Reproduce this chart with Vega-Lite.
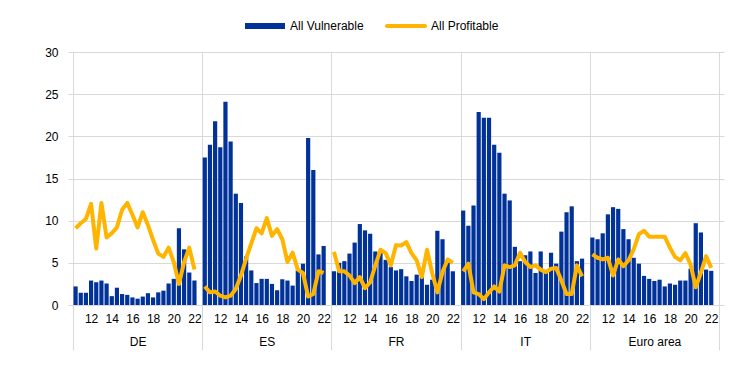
{
"$schema":"https://vega.github.io/schema/vega-lite/v6.json",
"width":656,"height":253,
"autosize":"none",
"padding":{"left":68,"top":52,"right":18,"bottom":71},
"config":{"font":"Liberation Sans","view":{"stroke":null},"axis":{"labelFont":"Liberation Sans","labelFontSize":12,"labelColor":"#000000"},"legend":{"labelFont":"Liberation Sans"}},
"data":{"values":[
{"c":"DE","t":2010.5,"v":2.2,"p":9.1},{"c":"DE","t":2011,"v":1.45,"p":9.7},{"c":"DE","t":2011.5,"v":1.45,"p":10.2},{"c":"DE","t":2012,"v":2.9,"p":12.0},{"c":"DE","t":2012.5,"v":2.7,"p":6.7},{"c":"DE","t":2013,"v":2.9,"p":12.1},{"c":"DE","t":2013.5,"v":2.55,"p":8.0},{"c":"DE","t":2014,"v":1.05,"p":8.5},{"c":"DE","t":2014.5,"v":2.05,"p":9.2},{"c":"DE","t":2015,"v":1.3,"p":11.3},{"c":"DE","t":2015.5,"v":1.2,"p":12.1},{"c":"DE","t":2016,"v":0.9,"p":10.7},{"c":"DE","t":2016.5,"v":0.75,"p":9.2},{"c":"DE","t":2017,"v":1.0,"p":11.0},{"c":"DE","t":2017.5,"v":1.4,"p":9.5},{"c":"DE","t":2018,"v":0.9,"p":7.7},{"c":"DE","t":2018.5,"v":1.5,"p":6.1},{"c":"DE","t":2019,"v":1.7,"p":5.7},{"c":"DE","t":2019.5,"v":2.55,"p":6.8},{"c":"DE","t":2020,"v":3.1,"p":5.1},{"c":"DE","t":2020.5,"v":9.1,"p":2.5},{"c":"DE","t":2021,"v":6.6,"p":5.1},{"c":"DE","t":2021.5,"v":3.85,"p":6.8},{"c":"DE","t":2022,"v":2.9,"p":4.2},
{"c":"ES","t":2010.5,"v":17.5,"p":2.2},{"c":"ES","t":2011,"v":19.0,"p":1.5},{"c":"ES","t":2011.5,"v":21.8,"p":1.6},{"c":"ES","t":2012,"v":18.7,"p":1.1},{"c":"ES","t":2012.5,"v":24.1,"p":0.9},{"c":"ES","t":2013,"v":19.4,"p":1.1},{"c":"ES","t":2013.5,"v":13.2,"p":1.9},{"c":"ES","t":2014,"v":12.1,"p":3.5},{"c":"ES","t":2014.5,"v":5.75,"p":5.5},{"c":"ES","t":2015,"v":4.1,"p":7.3},{"c":"ES","t":2015.5,"v":2.6,"p":9.1},{"c":"ES","t":2016,"v":3.1,"p":8.5},{"c":"ES","t":2016.5,"v":3.1,"p":10.3},{"c":"ES","t":2017,"v":2.5,"p":8.2},{"c":"ES","t":2017.5,"v":1.75,"p":9.0},{"c":"ES","t":2018,"v":3.05,"p":7.8},{"c":"ES","t":2018.5,"v":2.9,"p":5.1},{"c":"ES","t":2019,"v":2.3,"p":6.2},{"c":"ES","t":2019.5,"v":4.1,"p":4.2},{"c":"ES","t":2020,"v":4.9,"p":3.8},{"c":"ES","t":2020.5,"v":19.8,"p":1.0},{"c":"ES","t":2021,"v":16.0,"p":1.3},{"c":"ES","t":2021.5,"v":6.0,"p":4.0},{"c":"ES","t":2022,"v":7.0,"p":3.8},
{"c":"FR","t":2010.5,"v":4.0,"p":6.3},{"c":"FR","t":2011,"v":5.0,"p":4.0},{"c":"FR","t":2011.5,"v":5.2,"p":4.0},{"c":"FR","t":2012,"v":6.1,"p":3.5},{"c":"FR","t":2012.5,"v":7.4,"p":2.6},{"c":"FR","t":2013,"v":9.6,"p":3.3},{"c":"FR","t":2013.5,"v":8.85,"p":2.0},{"c":"FR","t":2014,"v":8.45,"p":2.7},{"c":"FR","t":2014.5,"v":6.35,"p":4.7},{"c":"FR","t":2015,"v":6.15,"p":6.55},{"c":"FR","t":2015.5,"v":5.35,"p":6.15},{"c":"FR","t":2016,"v":4.5,"p":4.7},{"c":"FR","t":2016.5,"v":4.1,"p":7.1},{"c":"FR","t":2017,"v":4.25,"p":7.05},{"c":"FR","t":2017.5,"v":3.4,"p":7.45},{"c":"FR","t":2018,"v":2.85,"p":6.15},{"c":"FR","t":2018.5,"v":3.6,"p":5.3},{"c":"FR","t":2019,"v":3.3,"p":3.3},{"c":"FR","t":2019.5,"v":2.4,"p":6.55},{"c":"FR","t":2020,"v":3.0,"p":3.8},{"c":"FR","t":2020.5,"v":8.8,"p":1.5},{"c":"FR","t":2021,"v":7.8,"p":3.9},{"c":"FR","t":2021.5,"v":5.0,"p":5.4},{"c":"FR","t":2022,"v":4.0,"p":5.0},
{"c":"IT","t":2010.5,"v":11.2,"p":4.0},{"c":"IT","t":2011,"v":9.4,"p":4.9},{"c":"IT","t":2011.5,"v":11.8,"p":1.5},{"c":"IT","t":2012,"v":22.9,"p":1.3},{"c":"IT","t":2012.5,"v":22.2,"p":0.7},{"c":"IT","t":2013,"v":22.2,"p":1.5},{"c":"IT","t":2013.5,"v":19.0,"p":2.2},{"c":"IT","t":2014,"v":18.05,"p":1.6},{"c":"IT","t":2014.5,"v":13.2,"p":4.7},{"c":"IT","t":2015,"v":12.4,"p":4.5},{"c":"IT","t":2015.5,"v":6.9,"p":4.7},{"c":"IT","t":2016,"v":5.2,"p":6.2},{"c":"IT","t":2016.5,"v":5.9,"p":5.1},{"c":"IT","t":2017,"v":6.35,"p":4.5},{"c":"IT","t":2017.5,"v":3.8,"p":4.7},{"c":"IT","t":2018,"v":6.35,"p":4.2},{"c":"IT","t":2018.5,"v":4.0,"p":3.9},{"c":"IT","t":2019,"v":6.2,"p":4.3},{"c":"IT","t":2019.5,"v":4.9,"p":4.4},{"c":"IT","t":2020,"v":8.7,"p":2.9},{"c":"IT","t":2020.5,"v":11.0,"p":1.3},{"c":"IT","t":2021,"v":11.7,"p":1.3},{"c":"IT","t":2021.5,"v":5.2,"p":4.7},{"c":"IT","t":2022,"v":5.5,"p":3.4},
{"c":"Euro area","t":2010.5,"v":8.0,"p":6.0},{"c":"Euro area","t":2011,"v":7.8,"p":5.6},{"c":"Euro area","t":2011.5,"v":8.5,"p":5.4},{"c":"Euro area","t":2012,"v":10.75,"p":5.6},{"c":"Euro area","t":2012.5,"v":11.6,"p":3.5},{"c":"Euro area","t":2013,"v":11.4,"p":5.4},{"c":"Euro area","t":2013.5,"v":9.0,"p":4.6},{"c":"Euro area","t":2014,"v":7.8,"p":5.3},{"c":"Euro area","t":2014.5,"v":5.6,"p":6.6},{"c":"Euro area","t":2015,"v":4.9,"p":8.4},{"c":"Euro area","t":2015.5,"v":3.45,"p":8.8},{"c":"Euro area","t":2016,"v":3.1,"p":8.1},{"c":"Euro area","t":2016.5,"v":2.85,"p":8.1},{"c":"Euro area","t":2017,"v":3.0,"p":8.1},{"c":"Euro area","t":2017.5,"v":2.2,"p":8.1},{"c":"Euro area","t":2018,"v":2.55,"p":6.8},{"c":"Euro area","t":2018.5,"v":2.4,"p":5.7},{"c":"Euro area","t":2019,"v":2.9,"p":5.3},{"c":"Euro area","t":2019.5,"v":2.9,"p":6.15},{"c":"Euro area","t":2020,"v":4.3,"p":4.8},{"c":"Euro area","t":2020.5,"v":9.7,"p":2.1},{"c":"Euro area","t":2021,"v":8.6,"p":3.85},{"c":"Euro area","t":2021.5,"v":4.2,"p":5.8},{"c":"Euro area","t":2022,"v":4.05,"p":4.4}
]},
"transform":[{"calculate":"indexof(['DE','ES','FR','IT','Euro area'], datum.c)*25 + (datum.t-2010.5)*2 + 0.5","as":"x"}],
"layer":[
{"mark":{"type":"rule","opacity":0},
 "encoding":{"x":{"field":"x","type":"quantitative","scale":{"domain":[0,125],"nice":false,"zero":false},
   "axis":{"orient":"bottom","values":[0,25,50,75,100,125],"grid":true,"gridColor":"#d9d9d9","gridWidth":1,"ticks":true,"tickSize":45,"tickColor":"#d9d9d9","labels":false,"domain":false,"title":null}}}},
{"mark":{"type":"bar","width":4.2},
 "encoding":{
  "x":{"field":"x","type":"quantitative","scale":{"domain":[0,125],"nice":false,"zero":false},
   "axis":{"orient":"bottom","values":[3.5,7.5,11.5,15.5,19.5,23.5,28.5,32.5,36.5,40.5,44.5,48.5,53.5,57.5,61.5,65.5,69.5,73.5,78.5,82.5,86.5,90.5,94.5,98.5,103.5,107.5,111.5,115.5,119.5,123.5],
    "labelExpr":"format(12 + 2*round(((datum.value % 25) - 3.5)/4), 'd')","grid":false,"ticks":false,"domain":false,"labelPadding":8,"labelFlush":false,"labelOverlap":false,"title":null}},
  "y":{"field":"v","type":"quantitative","scale":{"domain":[0,30],"nice":false},
   "axis":{"values":[0,5,10,15,20,25,30],"grid":true,"gridColor":"#d9d9d9","domain":false,"ticks":false,"labelPadding":10,"title":null}},
  "color":{"datum":"All Vulnerable","scale":{"domain":["All Vulnerable","All Profitable"],"range":["#003299","#FFB400"]},
   "legend":{"orient":"none","legendX":177,"legendY":-46,"direction":"horizontal","title":null,"symbolType":"M-1,-0.15H1V0.15H-1Z","symbolSize":1600,"labelFontSize":12,"labelColor":"#000000","labelOffset":5,"columnPadding":21,
    "encode":{"symbols":{"update":{"shape":{"signal":"datum.value === 'All Vulnerable' ? 'M-1,-0.15H1V0.15H-1Z' : 'M-0.95,-0.1H0.95A0.1,0.1 0 0 1 0.95,0.1H-0.95A0.1,0.1 0 0 1 -0.95,-0.1Z'"},"fill":{"scale":"color","field":"value"},"stroke":{"value":"transparent"},"strokeWidth":{"value":0},"opacity":{"value":1}}}}}}
 }},
{"mark":{"type":"line","strokeWidth":4,"strokeJoin":"round"},
 "encoding":{
  "x":{"field":"x","type":"quantitative","scale":{"domain":[0,125],"nice":false,"zero":false},
   "axis":{"orient":"bottom","values":[12.5,37.5,62.5,87.5,112.5],"labelExpr":"['DE','ES','FR','IT','Euro area'][floor(datum.value/25)]","grid":false,"ticks":false,"domain":false,"labelPadding":31,"labelFlush":false,"title":null}},
  "y":{"field":"p","type":"quantitative","scale":{"domain":[0,30],"nice":false},"axis":{"values":[0,5,10,15,20,25,30],"grid":true,"gridColor":"#d9d9d9","domain":false,"ticks":false,"labelPadding":10,"title":null}},
  "detail":{"field":"c"},
  "color":{"datum":"All Profitable"}
 }}
],
"resolve":{"axis":{"x":"independent"}}
}
